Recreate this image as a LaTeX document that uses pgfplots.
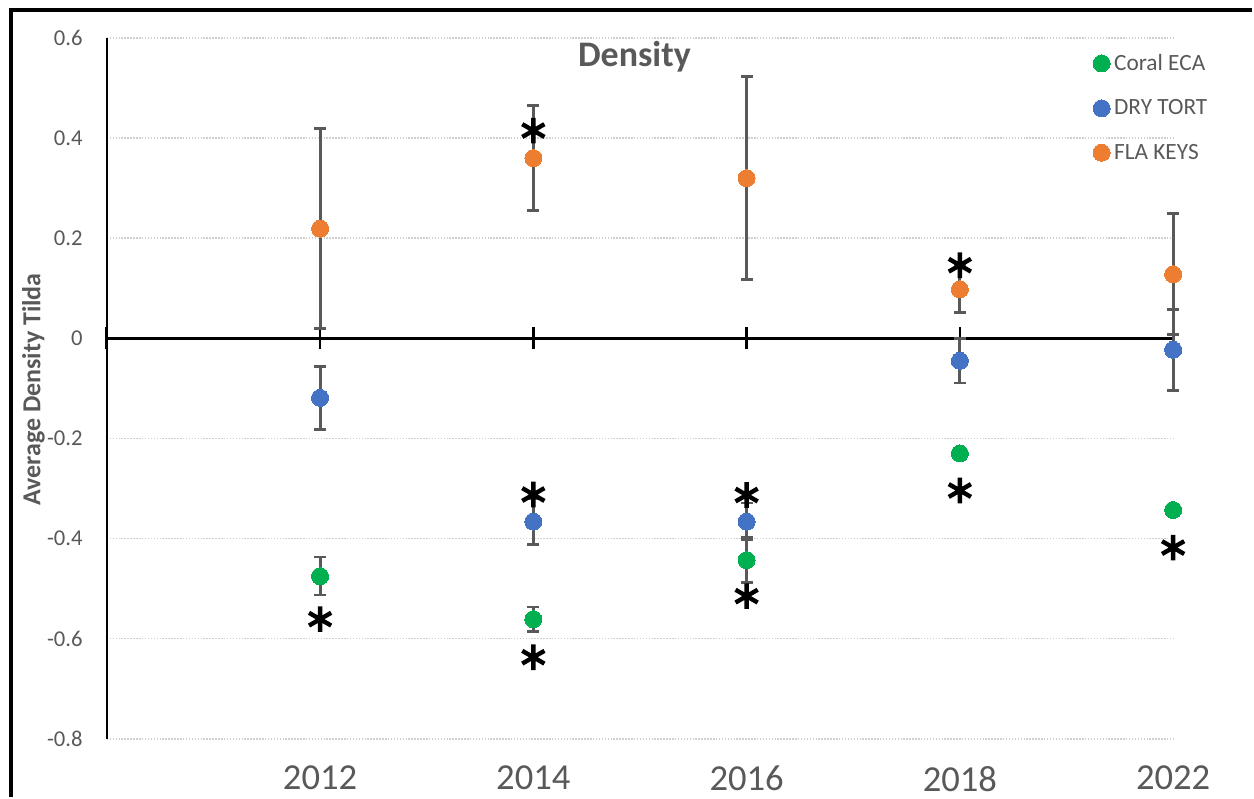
\documentclass[border=0pt]{standalone}
\usepackage{fontspec}
\setmainfont{Carlito}
\usepackage{pgfplots}
\pgfplotsset{compat=1.18}

\definecolor{coralgreen}{HTML}{00B050}
\definecolor{dryblue}{HTML}{4472C4}
\definecolor{flaorange}{HTML}{ED7D31}
\definecolor{txtgray}{HTML}{595959}
\definecolor{errgray}{HTML}{595959}
\definecolor{gridgray}{HTML}{D0D0D0}

\pgfplotsset{
  errstyle/.style={
    forget plot, only marks, mark=none,
    error bars/.cd, y dir=both, y explicit,
    error bar style={errgray, line width=2.25pt},
    error mark options={rotate=90, errgray, mark size=4.5pt, line width=2pt}
  },
  dotstyle/.style={
    only marks, mark=*, mark size=6.4pt, color=#1,
    mark options={draw=#1, fill=#1, line width=0pt}
  }
}

\begin{document}
\begin{tikzpicture}
% page frame in pixel units (origin of the plot area at pixel 107,740)
\begin{scope}[x=0.75pt, y=-0.75pt, shift={(-80.25pt,555pt)}]
  \path[use as bounding box] (0,0) rectangle (1254,798);
\end{scope}

\begin{axis}[
  at={(0pt,0pt)}, anchor=south west,
  width=801pt, height=526.5pt, scale only axis,
  xmin=0, xmax=5, ymin=-0.8, ymax=0.6,
  clip=false,
  axis lines=left,
  axis line style={draw=none},
  major tick length=0pt,
  tick style={draw=none},
  ymajorgrids,
  grid style={gridgray, line width=1.1pt, dash pattern=on 1.1pt off 1.1pt},
  xtick={1,2,3,4,5},
  xticklabels={2012,2014,2016,2018,2022},
  ytick={-0.8,-0.6,-0.4,-0.2,0,0.2,0.4,0.6},
  yticklabels={-0.8,-0.6,-0.4,-0.2,0,0.2,0.4,0.6},
  xticklabel style={font=\fontsize{27.5}{31}\selectfont, text=txtgray,
    anchor=north, inner sep=0pt, yshift=-20.25pt},
  yticklabel style={font=\fontsize{17}{20}\selectfont, text=txtgray,
    anchor=east, inner sep=0pt, xshift=-18pt},
  ylabel={Average Density Tilda},
  every axis y label/.style={at={(rel axis cs:-0.0688,0.4986)},
    rotate=90, anchor=center,
    font=\bfseries\fontsize{19.5}{22}\selectfont, text=txtgray},
  legend style={at={(rel axis cs:0.9247,0.977)}, anchor=north west,
    draw=none, fill=none, inner sep=0pt,
    font=\fontsize{17.5}{21}\selectfont, text=txtgray,
    row sep=20.5pt,
    nodes={inner sep=0pt},
    /tikz/every odd column/.append style={column sep=3pt}},
  legend cell align=left,
  legend image code/.code={\draw[#1] plot coordinates {(0pt,0pt)};},
]

% left axis line and zero line with category ticks
\draw[black, line width=1.5pt] (axis cs:0,-0.8) -- (axis cs:0,0.6);
\draw[black, line width=2.5pt] (axis cs:0,0) -- (axis cs:5,0);
\pgfplotsinvokeforeach{0,...,5}{
  \draw[black, line width=2pt] ([yshift=-8.25pt]axis cs:#1,0) -- ([yshift=8.25pt]axis cs:#1,0);
}

% chart title
\node[font=\bfseries\fontsize{27}{31}\selectfont, text=txtgray, anchor=base]
  at (axis cs:2.474,0.542) {Density};

% Coral ECA
\addplot[errstyle] coordinates {
  (1,-0.475) +- (0,0.038)
  (2,-0.561) +- (0,0.024)
  (3,-0.443) +- (0,0.045)
  (4,-0.230) +- (0,0.010)
  (5,-0.343) +- (0,0.008)
};
\addplot[dotstyle=coralgreen] coordinates {
  (1,-0.475) (2,-0.561) (3,-0.443) (4,-0.230) (5,-0.343)
};
\addlegendentry{Coral ECA}

% DRY TORT
\addplot[errstyle] coordinates {
  (1,-0.119) +- (0,0.063)
  (2,-0.366) +- (0,0.046)
  (3,-0.366) +- (0,0.037)
  (4,-0.045) +- (0,0.044)
  (5,-0.023) +- (0,0.081)
};
\addplot[dotstyle=dryblue] coordinates {
  (1,-0.119) (2,-0.366) (3,-0.366) (4,-0.045) (5,-0.023)
};
\addlegendentry{DRY TORT}

% FLA KEYS
\addplot[errstyle] coordinates {
  (1,0.219) +- (0,0.200)
  (2,0.360) +- (0,0.105)
  (3,0.320) +- (0,0.203)
  (4,0.098) +- (0,0.047)
  (5,0.128) +- (0,0.121)
};
\addplot[dotstyle=flaorange] coordinates {
  (1,0.219) (2,0.360) (3,0.320) (4,0.098) (5,0.128)
};
\addlegendentry{FLA KEYS}

% significance markers
\addplot[forget plot, only marks, mark=asterisk, mark size=9.6pt,
  mark options={black, line width=3.3pt}] coordinates {
  (1,-0.561)
  (2,0.415) (2,-0.312) (2,-0.637)
  (3,-0.313) (3,-0.515)
  (4,0.146) (4,-0.304)
  (5,-0.418)
};
\end{axis}

\begin{scope}[x=0.75pt, y=-0.75pt, shift={(-80.25pt,555pt)}]
  \draw[black, line width=3pt] (11,798) -- (11,10) -- (1254,10);
\end{scope}
\end{tikzpicture}
\end{document}
